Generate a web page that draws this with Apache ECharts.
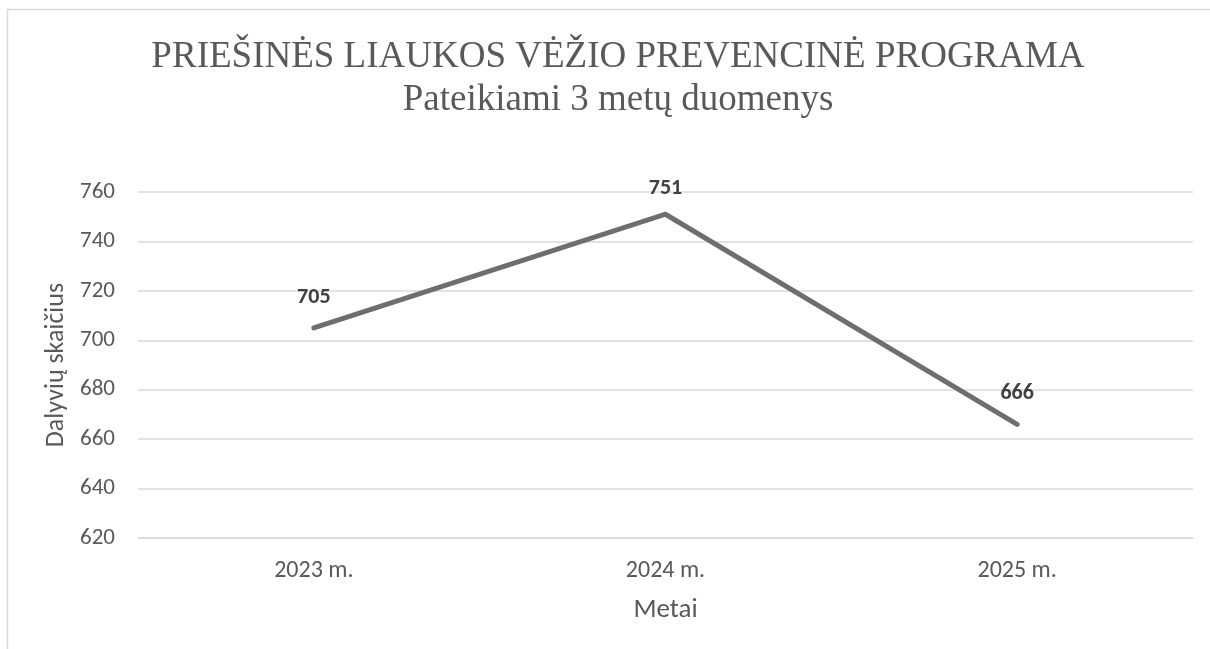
<!DOCTYPE html>
<html><head><meta charset="utf-8">
<script src="https://cdn.jsdelivr.net/npm/echarts@6/dist/echarts.min.js"></script>
<style>html,body{margin:0;padding:0;background:#fff}#c{width:1210px;height:649px}</style>
</head><body><div id="c"></div>
<script>
const categories = ['2023 m.', '2024 m.', '2025 m.'];
const values = [705, 751, 666];
const titleText = 'PRIEŠINĖS LIAUKOS VĖŽIO PREVENCINĖ PROGRAMA';
const subtitleText = 'Pateikiami 3 metų duomenys';
const yAxisName = 'Dalyvių skaičius';
const xAxisName = 'Metai';
const yMin = 620, yMax = 760, yStep = 20;

const sans = 'Carlito, "Open Sans", "Noto Sans", sans-serif';
const serif = '"Liberation Serif", "Times New Roman", serif';
const maxIdx = values.indexOf(Math.max(...values));
const chart = echarts.init(document.getElementById('c'));
chart.setOption({
  animation: false,
  backgroundColor: '#fff',
  graphic: [{
    type: 'rect', left: 5, top: 7, silent: true,
    shape: { width: 1230, height: 700 },
    style: { fill: 'none', stroke: '#d9d9d9', lineWidth: 1.5 }
  }],
  title: {
    text: titleText,
    subtext: subtitleText,
    left: 613, textAlign: 'center', top: 33, itemGap: 5,
    textStyle: { fontFamily: serif, fontSize: 37, fontWeight: 'normal', color: '#595959', lineHeight: 38 },
    subtextStyle: { fontFamily: serif, fontSize: 37, color: '#595959', lineHeight: 38 }
  },
  grid: { left: 138, right: 17, top: 192, bottom: 111 },
  xAxis: {
    type: 'category', data: categories, boundaryGap: true,
    name: xAxisName, nameLocation: 'middle', nameGap: 59,
    nameTextStyle: { fontFamily: sans, fontSize: 27, color: '#595959' },
    axisLine: { lineStyle: { color: '#d9d9d9', width: 1.5 } },
    axisTick: { show: false },
    axisLabel: { fontFamily: sans, fontSize: 24, color: '#595959', margin: 21 }
  },
  yAxis: {
    type: 'value', min: yMin, max: yMax, interval: yStep,
    name: yAxisName, nameLocation: 'middle', nameGap: 66, nameRotate: 90,
    nameTextStyle: { fontFamily: sans, fontSize: 26, color: '#595959' },
    axisLine: { show: false }, axisTick: { show: false },
    axisLabel: { fontFamily: sans, fontSize: 23, color: '#595959', margin: 23 },
    splitLine: { lineStyle: { color: '#d9d9d9', width: 1.5 } }
  },
  series: [{
    type: 'line',
    data: values.map((v, i) => i === maxIdx ? { value: v, label: { distance: 14 } } : v),
    symbol: 'circle', symbolSize: 1, showSymbol: true,
    itemStyle: { color: '#6e6e6e', opacity: 0 },
    lineStyle: { color: '#6e6e6e', width: 5, cap: 'round', join: 'miter' },
    label: {
      show: true, position: 'top', distance: 19, opacity: 1,
      fontFamily: sans, fontSize: 22, fontWeight: 'bold', color: '#404040'
    }
  }]
});
</script></body></html>
